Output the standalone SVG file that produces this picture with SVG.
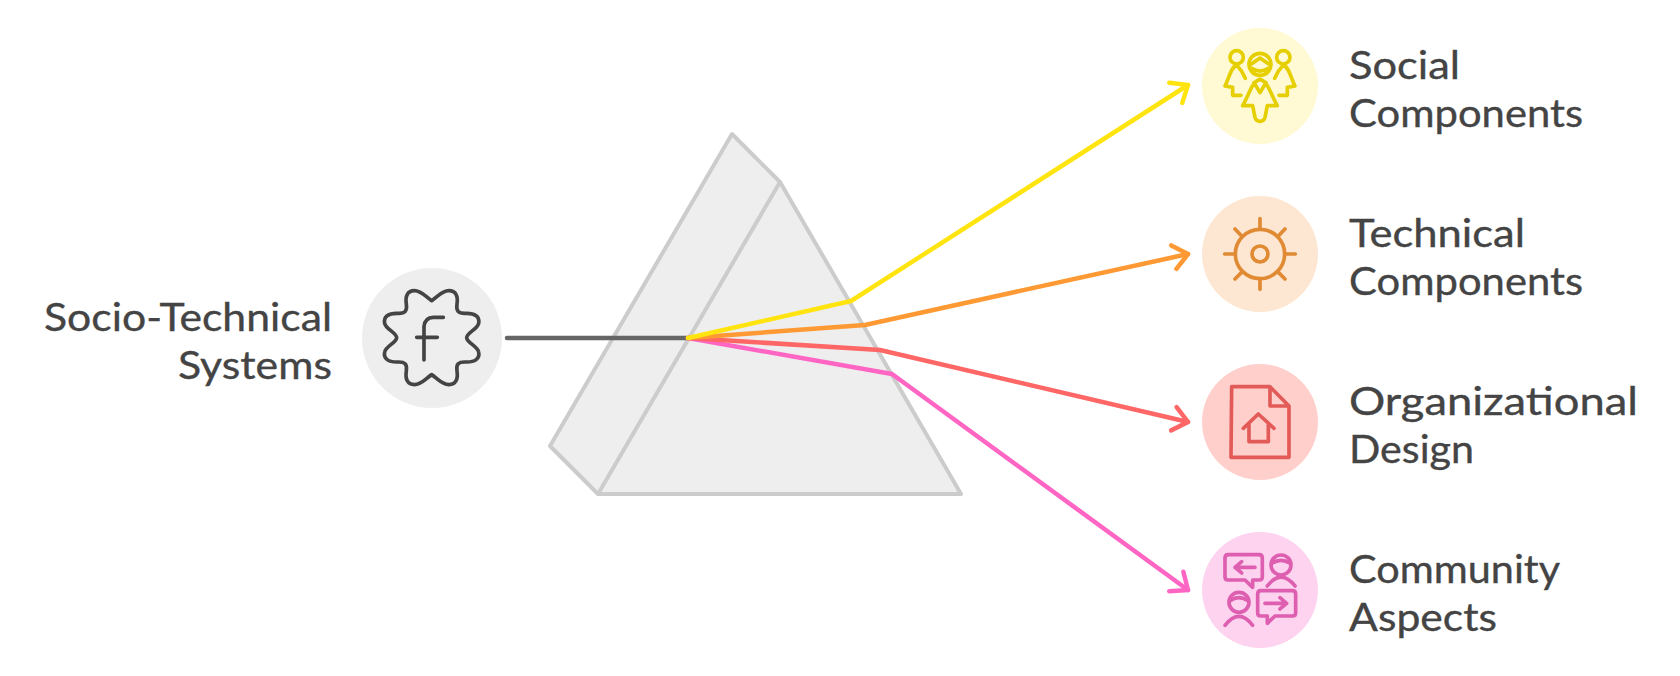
<svg xmlns="http://www.w3.org/2000/svg" width="1680" height="676" viewBox="0 0 1680 676">
<style>
.t{font-family:"Lato","Noto Sans",sans-serif;font-size:38px;fill:#444;stroke:#444;stroke-width:.35px}
.ln{fill:none;stroke-width:4.5;stroke-linejoin:round;stroke-linecap:round}
.ic{fill:none;stroke-width:11;stroke-linecap:round;stroke-linejoin:round}
.ar{fill:none;stroke-width:4.5;stroke-linecap:round;stroke-linejoin:round}
</style>
<defs>
<marker id="my" markerUnits="userSpaceOnUse" markerWidth="40" markerHeight="40" refX="30" refY="20" orient="auto"><path class="ar" stroke="#FFE40F" d="M15.5 8 L30 20 L15.5 32"/></marker>
<marker id="mo" markerUnits="userSpaceOnUse" markerWidth="40" markerHeight="40" refX="30" refY="20" orient="auto"><path class="ar" stroke="#FF9933" d="M15.5 8 L30 20 L15.5 32"/></marker>
<marker id="mr" markerUnits="userSpaceOnUse" markerWidth="40" markerHeight="40" refX="30" refY="20" orient="auto"><path class="ar" stroke="#FF6666" d="M15.5 8 L30 20 L15.5 32"/></marker>
<marker id="mp" markerUnits="userSpaceOnUse" markerWidth="40" markerHeight="40" refX="30" refY="20" orient="auto"><path class="ar" stroke="#FF66C4" d="M15.5 8 L30 20 L15.5 32"/></marker>
</defs>
<g id="prism">
<path d="M732 134 L780 182 L961 494 H598 L550 446 Z" fill="#EEEEEE" stroke="#CCCCCC" stroke-width="4" stroke-linejoin="round"/>
<path d="M780 182 L598 494" fill="none" stroke="#CCCCCC" stroke-width="4"/>
</g>
<g id="connectors">
<path class="ln" stroke="#666666" d="M507 338 H688"/>
<path class="ln" stroke="#FF66C4" marker-end="url(#mp)" d="M688 338 L892 374 L1188 590"/>
<path class="ln" stroke="#FF6666" marker-end="url(#mr)" d="M688 338 L880 350 L1188 422"/>
<path class="ln" stroke="#FF9933" marker-end="url(#mo)" d="M688 338 L865 325 L1188 254"/>
<path class="ln" stroke="#FFE40F" marker-end="url(#my)" d="M688 338 L851 301 L1188 85"/>
</g>
<g id="node-source">
<circle cx="432" cy="338" r="70" fill="#EEEEEE"/>
<g transform="translate(350 255) scale(.3333)" class="ic" stroke="#444444">
<path transform="translate(245 248)" d="M0 -111 C17 -122 30 -141 52 -141 C72 -141 80 -125 76 -100 C73 -80 80 -72 102 -73 C130 -74 145 -63 141 -43 C138 -26 105 -14 105 0 C105 14 138 26 141 43 C145 63 130 74 102 73 C80 72 73 80 76 100 C80 125 72 141 52 141 C30 141 17 122 0 111 C-17 122 -30 141 -52 141 C-72 141 -80 125 -76 100 C-73 80 -80 72 -102 73 C-130 74 -145 63 -141 43 C-138 26 -105 14 -105 0 C-105 -14 -138 -26 -141 -43 C-145 -63 -130 -74 -102 -73 C-80 -72 -73 -80 -76 -100 C-80 -125 -72 -141 -52 -141 C-30 -141 -17 -122 0 -111 Z"/>
<path d="M280 187 H250 Q225 187 222 215 V315 M200 247 H262"/>
</g>
<text class="t" x="332" y="331" text-anchor="end" textLength="288" lengthAdjust="spacingAndGlyphs">Socio-Technical</text>
<text class="t" x="332" y="379" text-anchor="end" textLength="154" lengthAdjust="spacingAndGlyphs">Systems</text>
</g>
<g id="node-social">
<circle cx="1260" cy="86" r="58" fill="#FFF9D4"/>
<g transform="translate(1180 10) scale(.3333)" class="ic" stroke="#E6CF00">
<circle cx="240" cy="163" r="33"/><path d="M214 162 L240 144 L266 162 M215 175 Q240 192 265 175"/>
<circle cx="170" cy="142" r="20"/><path d="M170 165 C150 175 148 205 135 228 L158 232 V 256 H183 M170 165 C180 175 190 190 196 205"/>
<circle cx="310" cy="142" r="20"/><path d="M310 165 C330 175 332 205 345 228 L322 232 V 256 H297 M310 165 C300 175 290 190 284 205"/>
<path d="M240 208 C215 215 205 260 188 287 H218 L225 322 Q228 334 240 334 Q252 334 255 322 L262 287 H292 C275 260 265 215 240 208 M222 218 L240 248 L258 218"/>
</g>
<text class="t" x="1349" y="79" textLength="111" lengthAdjust="spacingAndGlyphs">Social</text>
<text class="t" x="1349" y="127" textLength="234" lengthAdjust="spacingAndGlyphs">Components</text>
</g>
<g id="node-technical">
<circle cx="1260" cy="254" r="58" fill="#FDE6D2"/>
<g transform="translate(1180 10) scale(.3333)" class="ic" stroke="#E08A33">
<circle cx="240" cy="732" r="74"/><circle cx="240" cy="732" r="24"/>
<path d="M240 626V656M240 808V838M134 732H164M316 732H346M165 657L187 680M315 657L293 680M165 807L187 785M315 807L293 785"/>
</g>
<text class="t" x="1349" y="247" textLength="176" lengthAdjust="spacingAndGlyphs">Technical</text>
<text class="t" x="1349" y="295" textLength="234" lengthAdjust="spacingAndGlyphs">Components</text>
</g>
<g id="node-organizational">
<circle cx="1260" cy="422" r="58" fill="#FFCFCB"/>
<g transform="translate(1180 350) scale(.3333)" class="ic" stroke="#E35B58">
<path d="M155 110 H270 L327 168 V322 H153 Z M270 110 V168 H327"/>
<path d="M190 235 L235 192 L282 235 M207 225 V275 H265 V225"/>
</g>
<text class="t" x="1349" y="415" textLength="289" lengthAdjust="spacingAndGlyphs">Organizational</text>
<text class="t" x="1349" y="463" textLength="125" lengthAdjust="spacingAndGlyphs">Design</text>
</g>
<g id="node-community">
<circle cx="1260" cy="590" r="58" fill="#FDD3F0"/>
<g transform="translate(1180 350) scale(.3333)" class="ic" stroke="#DE5FB0">
<path d="M145 614 H237 Q247 614 247 624 V680 Q247 690 237 690 H218 V712 L195 690 H145 Q135 690 135 680 V624 Q135 614 145 614 Z M225 652 H165 M185 635 L165 652 L185 669"/>
<circle cx="303" cy="645" r="30"/><path d="M276 640 Q303 622 330 640 M262 708 Q303 655 345 708"/>
<path d="M243 722 H337 Q347 722 347 732 V788 Q347 798 337 798 H285 L262 820 V798 H243 Q233 798 233 788 V732 Q233 722 243 722 Z M255 760 H320 M300 743 L320 760 L300 777"/>
<circle cx="177" cy="757" r="30"/><path d="M150 752 Q177 734 204 752 M135 826 Q177 772 218 826"/>
</g>
<text class="t" x="1349" y="583" textLength="211" lengthAdjust="spacingAndGlyphs">Community</text>
<text class="t" x="1349" y="631" textLength="148" lengthAdjust="spacingAndGlyphs">Aspects</text>
</g>
</svg>
